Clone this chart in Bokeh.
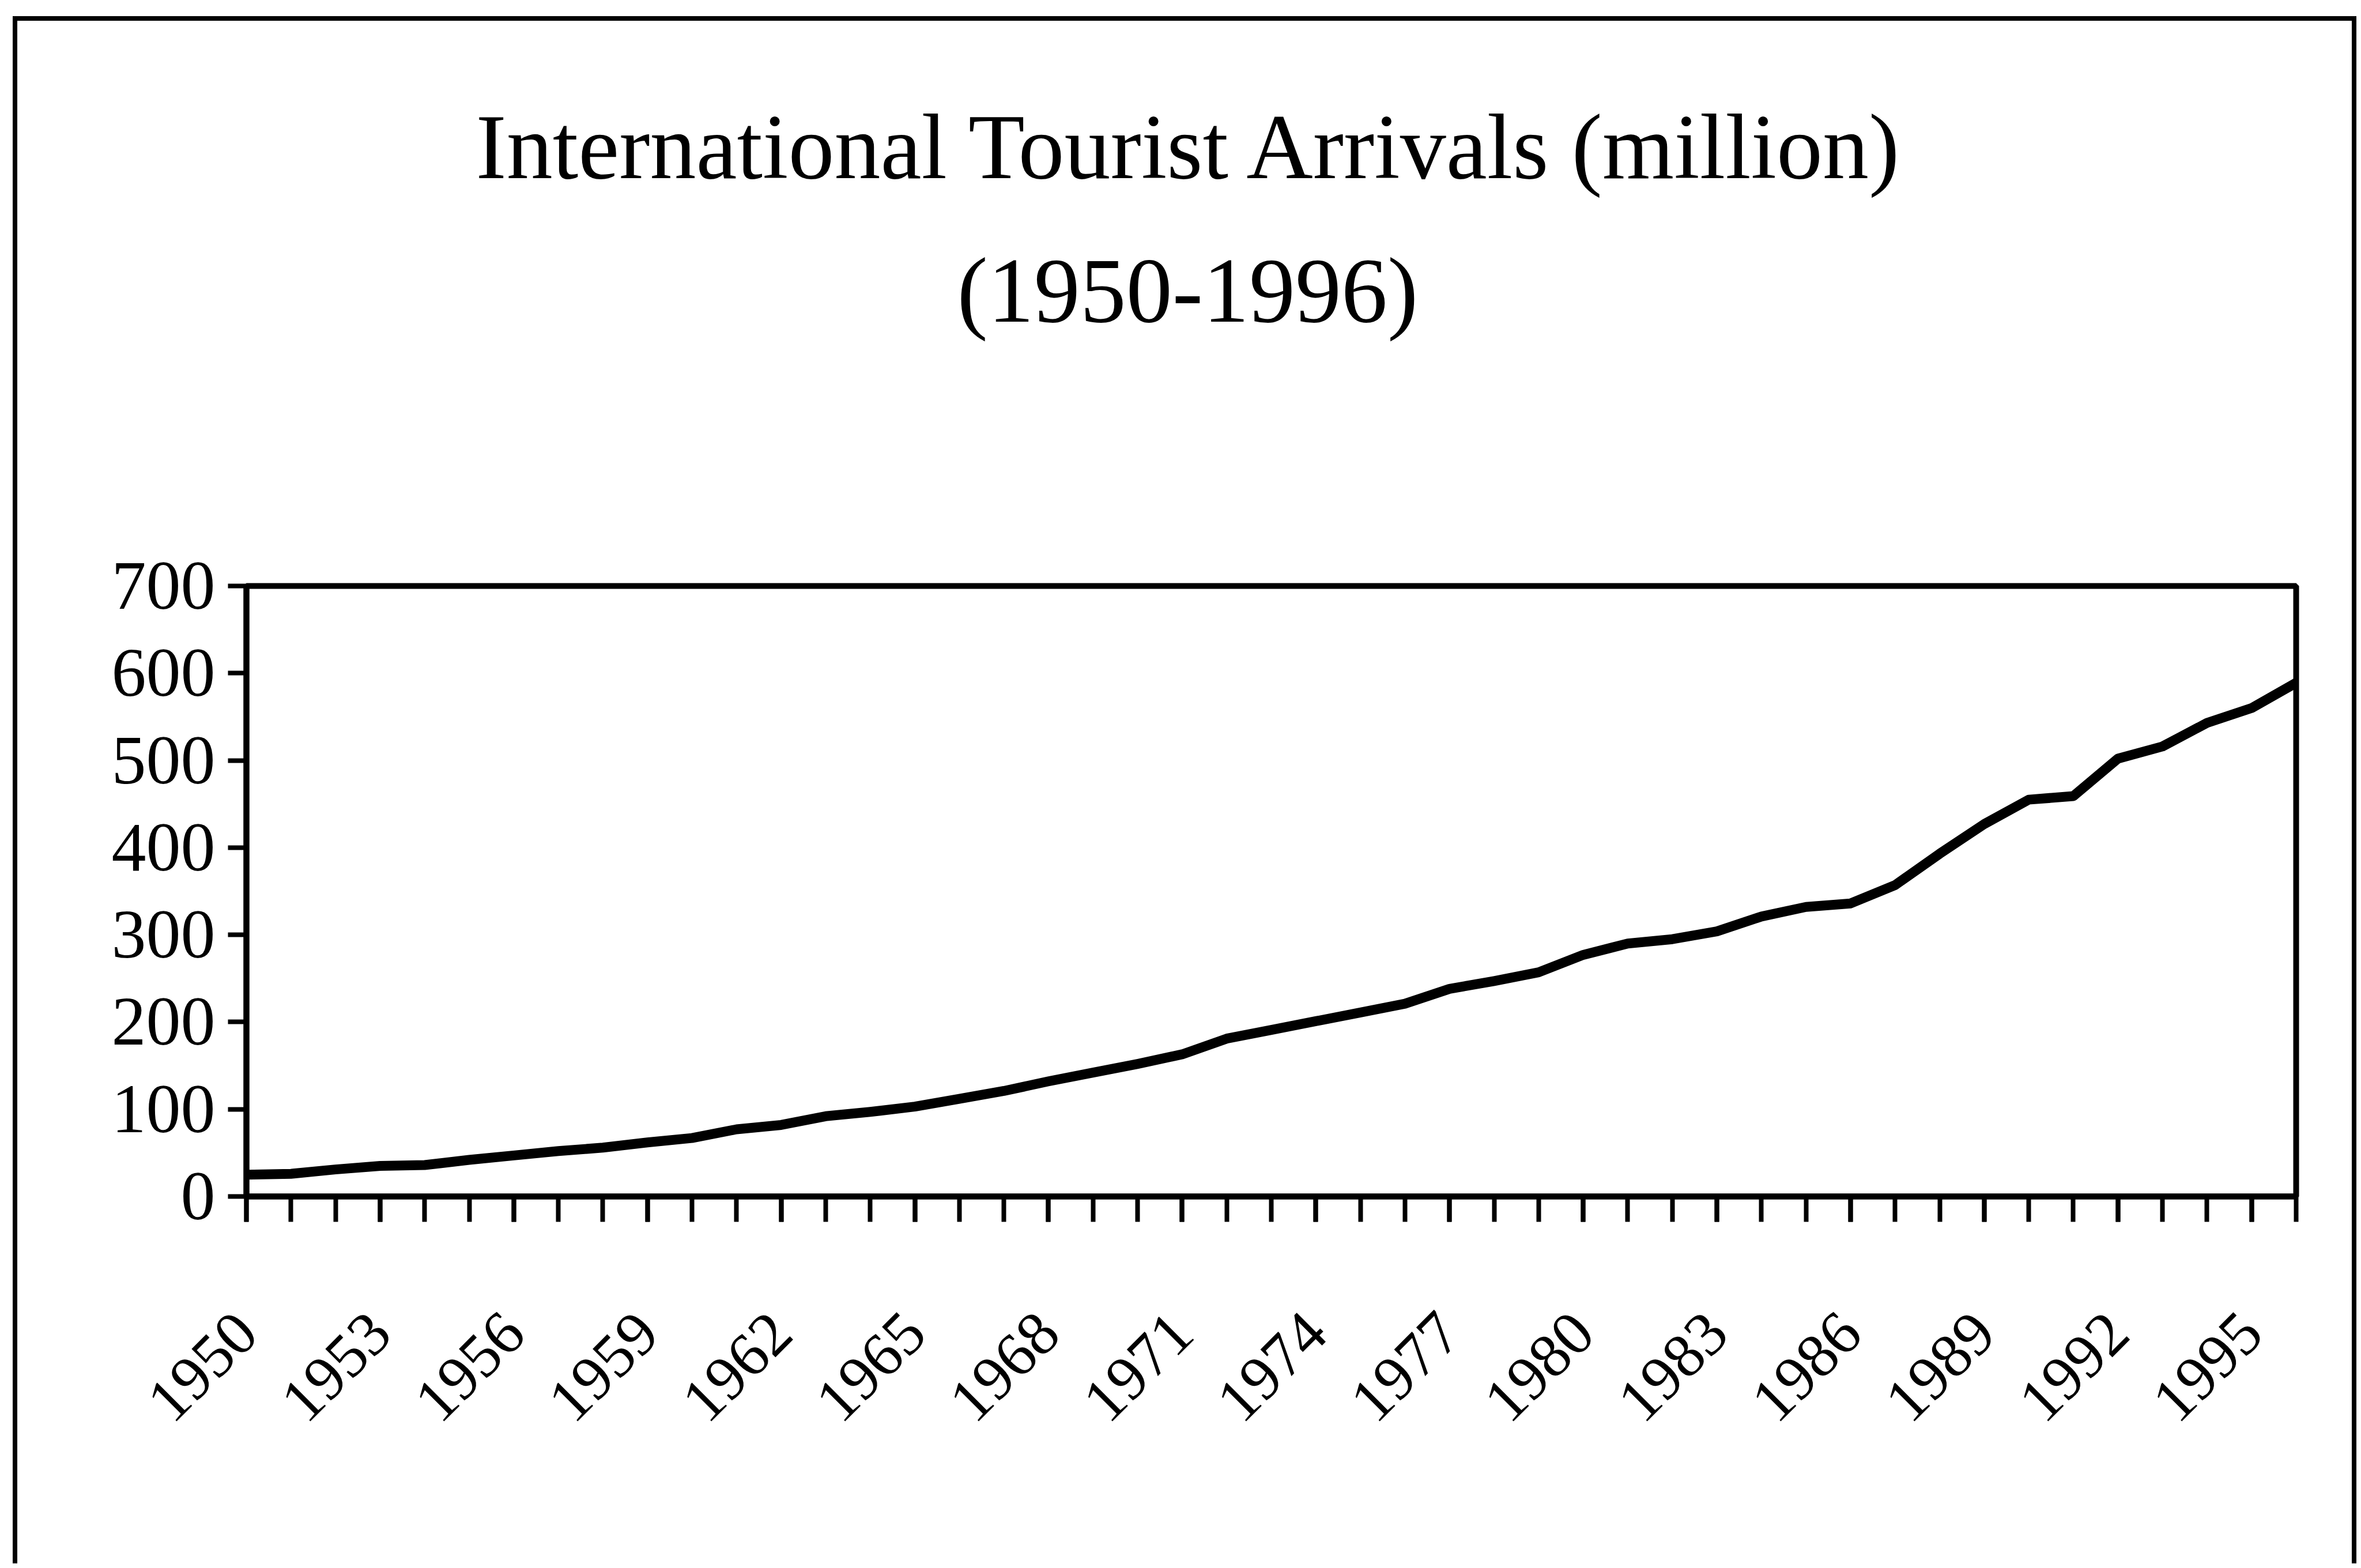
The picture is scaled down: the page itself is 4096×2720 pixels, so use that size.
import math
from bokeh.plotting import figure
from bokeh.models import Range1d, FixedTicker, Title, ColumnDataSource
from bokeh.embed import file_html
from bokeh.resources import INLINE

# ---- data ----
years = list(range(1950, 1997))
arrivals = [25, 26, 31, 35, 36, 42, 47, 52, 56, 62,
            67, 77, 82, 92, 97, 103, 112, 121, 132, 142,
            152, 163, 181, 191, 201, 211, 221, 238, 247, 257,
            277, 290, 295, 304, 321, 332, 336, 357, 393, 427,
            455, 459, 502, 516, 543, 560, 589]
label_years = list(range(1950, 1996, 3))
y_ticks = [0, 100, 200, 300, 400, 500, 600, 700]
title_lines = ["International Tourist Arrivals (million)", "(1950-1996)"]

FONT = "Liberation Serif"

W, H = 4050, 2676
BL, BR, BT, BB = 397, 113, 980, 645   # borders around the plot area

src = ColumnDataSource(data=dict(year=years, arrivals=arrivals))

p = figure(width=W, height=H, output_backend="svg", toolbar_location=None,
           title=None, x_range=Range1d(1950, 1996), y_range=Range1d(0, 700),
           min_border_left=BL, min_border_right=BR,
           min_border_top=BT, min_border_bottom=BB)

# outer chart frame: top, left and right edges (bottom is cut off in the reference)
p.styles = {"box-sizing": "content-box", "position": "absolute",
            "left": "22px", "top": "28px", "margin": "0px",
            "border-top": "8px solid black",
            "border-left": "8px solid black",
            "border-right": "8px solid black",
            "border-bottom": "0px none"}

p.xgrid.visible = False
p.ygrid.visible = False
p.background_fill_color = "white"
p.border_fill_color = "white"
p.outline_line_color = "black"
p.outline_line_width = 10

p.line(x="year", y="arrivals", source=src, line_color="black",
       line_width=17, line_join="round")

# x axis
xa = p.xaxis[0]
xa.ticker = FixedTicker(ticks=label_years, minor_ticks=years)
xa.axis_line_color = "black"
xa.axis_line_width = 10
xa.major_tick_in = 0
xa.major_tick_out = 44
xa.major_tick_line_width = 8
xa.minor_tick_in = 0
xa.minor_tick_out = 44
xa.minor_tick_line_width = 8
xa.minor_tick_line_color = "black"
xa.major_label_orientation = math.pi / 4
xa.major_label_standoff = 175
xa.major_label_text_font = FONT
xa.major_label_text_font_size = "108px"
xa.major_label_text_color = "black"

# y axis
ya = p.yaxis[0]
ya.ticker = FixedTicker(ticks=y_ticks, minor_ticks=[])
ya.axis_line_color = "black"
ya.axis_line_width = 10
ya.major_tick_in = 0
ya.major_tick_out = 32
ya.major_tick_line_width = 8
ya.minor_tick_out = 0
ya.minor_tick_in = 0
ya.major_label_standoff = 22
ya.major_label_text_font = FONT
ya.major_label_text_font_size = "120px"
ya.major_label_text_color = "black"

# blank spacer panel (white on white) between the plot area and the title lines
spacer = Title(text=" ", text_color="white", text_font=FONT,
               text_font_size="10px", text_font_style="normal", standoff=401)
p.add_layout(spacer, "above")

# two-line title (added after the spacer, so the second line sits just above it)
t2 = Title(text=title_lines[1], align="left", offset=1233, vertical_align="bottom",
           standoff=20, text_font=FONT, text_font_size="160px",
           text_font_style="normal", text_color="black")
t1 = Title(text=title_lines[0], align="left", offset=398, vertical_align="bottom",
           standoff=118, text_font=FONT, text_font_size="160px",
           text_font_style="normal", text_color="black")
p.add_layout(t2, "above")
p.add_layout(t1, "above")

open("out.html", "w").write(file_html(p, INLINE))
